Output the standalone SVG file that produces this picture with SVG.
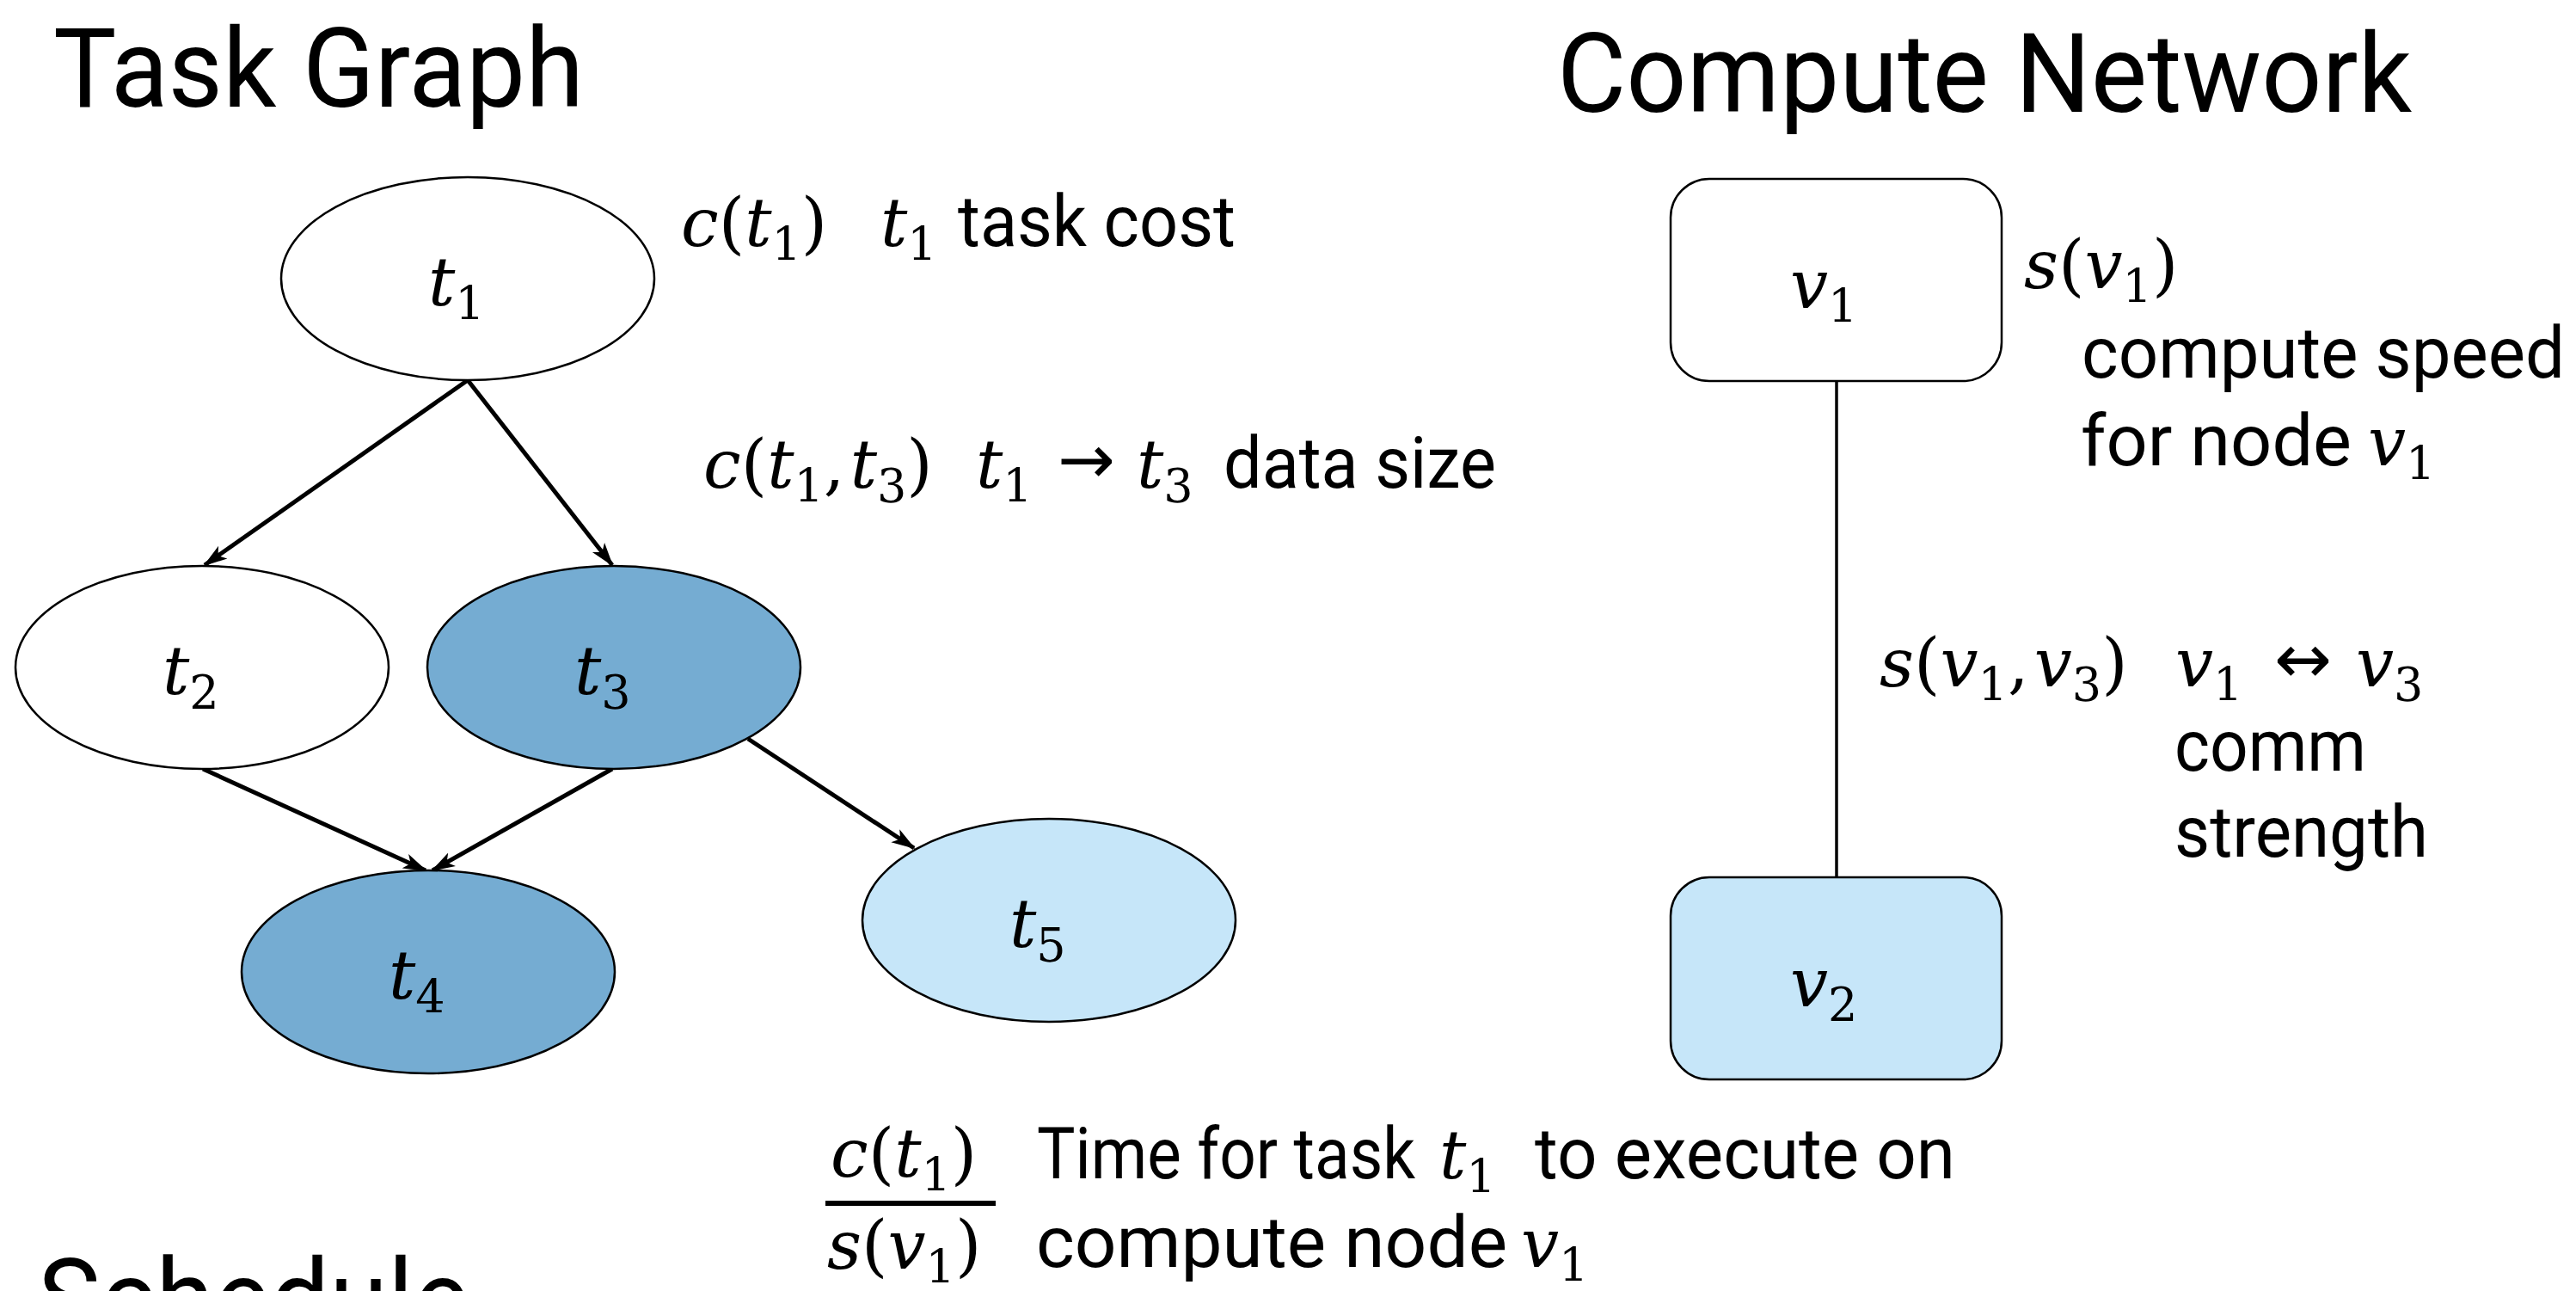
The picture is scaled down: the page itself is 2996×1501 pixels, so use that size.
<svg xmlns="http://www.w3.org/2000/svg" width="2996" height="1501" viewBox="0 0 2996 1501">
<style>
.title{font-family:Roboto,"Liberation Sans",Arial,sans-serif;font-weight:400;font-size:128px;fill:#000}
.txt{font-family:Roboto,"Liberation Sans",Arial,sans-serif;font-weight:400;font-size:84px;fill:#000}
.m{font-family:"DejaVu Serif","Liberation Serif",serif;font-style:italic;font-size:78px;fill:#000}
.u{font-style:normal}
.s{font-style:normal;font-size:54px}
.arr{font-family:"DejaVu Sans",sans-serif;font-style:normal;font-size:80px;fill:#000}
.node{stroke:#000;stroke-width:2.5}
.edge{stroke:#000;stroke-width:5;fill:none}
.link{stroke:#000;stroke-width:3.5;fill:none}
</style>
<defs>
<marker id="ah" markerUnits="userSpaceOnUse" markerWidth="28" markerHeight="20" refX="26" refY="10" orient="auto">
<path d="M0,1 L28,10 L0,19 L7,10 z" fill="#000"/>
</marker>
</defs>
<rect x="0" y="0" width="2996" height="1501" fill="#fff"/>

<text class="title" x="62" y="124" textLength="617" lengthAdjust="spacingAndGlyphs">Task Graph</text>
<text class="title" x="1811" y="130" textLength="994" lengthAdjust="spacingAndGlyphs">Compute Network</text>
<text class="title" x="44" y="1555" textLength="502" lengthAdjust="spacingAndGlyphs">Schedule</text>

<g id="connectors">
<line class="edge" x1="544" y1="442" x2="238" y2="657" marker-end="url(#ah)"/>
<line class="edge" x1="544" y1="442" x2="712" y2="657" marker-end="url(#ah)"/>
<line class="edge" x1="236" y1="894" x2="495" y2="1012" marker-end="url(#ah)"/>
<line class="edge" x1="712" y1="894" x2="503" y2="1012" marker-end="url(#ah)"/>
<line class="edge" x1="870" y1="859" x2="1063" y2="986" marker-end="url(#ah)"/>
<line class="link" x1="2136" y1="443" x2="2136" y2="1020"/>
</g>

<g id="t1"><ellipse class="node" cx="544" cy="324" rx="217" ry="118" fill="#fff"/>
<text class="m" x="498" y="355">t<tspan class="s" dy="17">1</tspan></text></g>
<g id="t2"><ellipse class="node" cx="235" cy="776" rx="217" ry="118" fill="#fff"/>
<text class="m" x="189" y="807">t<tspan class="s" dy="17">2</tspan></text></g>
<g id="t3"><ellipse class="node" cx="714" cy="776" rx="217" ry="118" fill="#75acd2"/>
<text class="m" x="668" y="807">t<tspan class="s" dy="17">3</tspan></text></g>
<g id="t4"><ellipse class="node" cx="498" cy="1130" rx="217" ry="118" fill="#75acd2"/>
<text class="m" x="452" y="1161">t<tspan class="s" dy="17">4</tspan></text></g>
<g id="t5"><ellipse class="node" cx="1220" cy="1070" rx="217" ry="118" fill="#c6e6f9"/>
<text class="m" x="1174" y="1101">t<tspan class="s" dy="17">5</tspan></text></g>

<g id="v1"><rect class="node" x="1943" y="208" width="385" height="235" rx="45" ry="45" fill="#fff"/>
<text class="m" x="2082" y="358">v<tspan class="s" dy="17">1</tspan></text></g>
<g id="v2"><rect class="node" x="1943" y="1020" width="385" height="235" rx="45" ry="45" fill="#c6e6f9"/>
<text class="m" x="2082" y="1170">v<tspan class="s" dy="17">2</tspan></text></g>

<g id="annotations">
<text class="m" x="792" y="286">c<tspan class="u">(</tspan>t<tspan class="s" dy="17">1</tspan><tspan class="u" dy="-17">)</tspan></text>
<text class="m" x="1024" y="286">t<tspan class="s" dy="17">1</tspan></text>
<text class="txt" x="1114" y="286" textLength="323" lengthAdjust="spacingAndGlyphs">task cost</text>

<text class="m" x="818" y="567">c<tspan class="u">(</tspan>t<tspan class="s" dy="17">1</tspan><tspan class="u" dy="-17">,</tspan><tspan dx="6">t</tspan><tspan class="s" dy="17">3</tspan><tspan class="u" dy="-17">)</tspan></text>
<text class="m" x="1135" y="567">t<tspan class="s" dy="17">1</tspan></text>
<text class="arr" x="1230" y="562">→</text>
<text class="m" x="1322" y="567">t<tspan class="s" dy="17">3</tspan></text>
<text class="txt" x="1423" y="567" textLength="317" lengthAdjust="spacingAndGlyphs">data size</text>

<text class="m" x="2354" y="335">s<tspan class="u">(</tspan>v<tspan class="s" dy="17">1</tspan><tspan class="u" dy="-17">)</tspan></text>
<text class="txt" x="2421" y="439" textLength="562" lengthAdjust="spacingAndGlyphs">compute speed</text>
<text class="txt" x="2420" y="541" textLength="315" lengthAdjust="spacingAndGlyphs">for node</text>
<text class="m" x="2754" y="541">v<tspan class="s" dy="17">1</tspan></text>

<text class="m" x="2186" y="798">s<tspan class="u">(</tspan>v<tspan class="s" dy="17">1</tspan><tspan class="u" dy="-17">,</tspan><tspan dx="6">v</tspan><tspan class="s" dy="17">3</tspan><tspan class="u" dy="-17">)</tspan></text>
<text class="m" x="2530" y="798">v<tspan class="s" dy="17">1</tspan></text>
<text class="arr" x="2645" y="794">↔</text>
<text class="m" x="2740" y="798">v<tspan class="s" dy="17">3</tspan></text>
<text class="txt" x="2529" y="896" textLength="223" lengthAdjust="spacingAndGlyphs">comm</text>
<text class="txt" x="2529" y="996" textLength="295" lengthAdjust="spacingAndGlyphs">strength</text>

<text class="m" x="966" y="1368">c<tspan class="u">(</tspan>t<tspan class="s" dy="17">1</tspan><tspan class="u" dy="-17">)</tspan></text>
<rect x="960" y="1396" width="198" height="6" fill="#000"/>
<text class="m" x="962" y="1475">s<tspan class="u">(</tspan>v<tspan class="s" dy="17">1</tspan><tspan class="u" dy="-17">)</tspan></text>
<text class="txt" x="1206" y="1370" textLength="440" lengthAdjust="spacingAndGlyphs">Time for task</text>
<text class="m" x="1674" y="1370">t<tspan class="s" dy="17">1</tspan></text>
<text class="txt" x="1785" y="1370" textLength="489" lengthAdjust="spacingAndGlyphs">to execute on</text>
<text class="txt" x="1205" y="1473" textLength="548" lengthAdjust="spacingAndGlyphs">compute node</text>
<text class="m" x="1769" y="1473">v<tspan class="s" dy="17">1</tspan></text>
</g>
</svg>
